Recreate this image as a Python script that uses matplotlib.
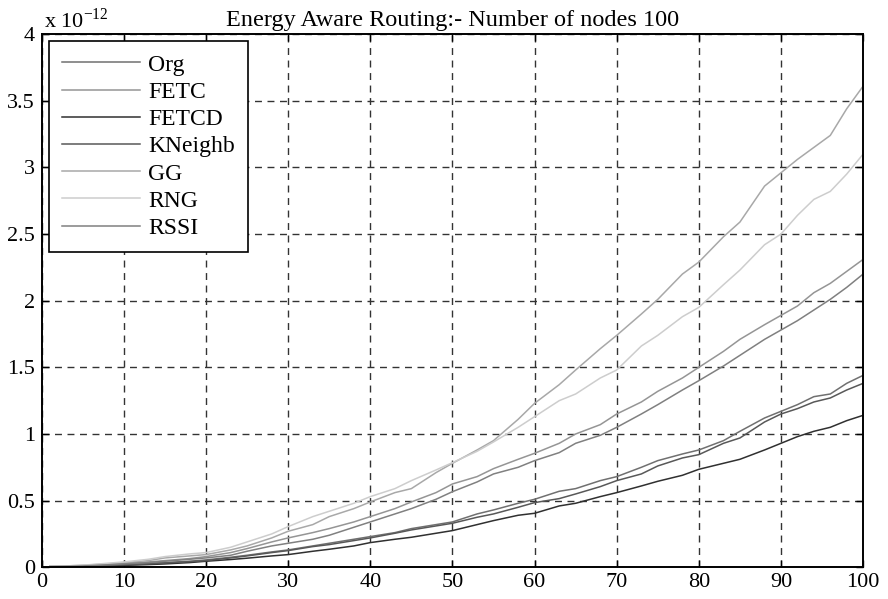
import matplotlib
matplotlib.use("Agg")
import matplotlib.pyplot as plt

x = [1, 3, 5, 8, 10, 13, 15, 18, 20, 23, 25, 28, 30, 33, 35, 38, 40, 43, 45, 48, 50,
     53, 55, 58, 60, 63, 65, 68, 70, 73, 75, 78, 80, 83, 85, 88, 90, 92, 94, 96, 98, 100]

org = [0.004, 0.005, 0.008, 0.014, 0.02, 0.03, 0.035, 0.045, 0.055, 0.075, 0.09, 0.115, 0.13, 0.16,
       0.18, 0.21, 0.23, 0.26, 0.29, 0.32, 0.34, 0.40, 0.43, 0.48, 0.51, 0.57, 0.59, 0.65, 0.68,
       0.75, 0.80, 0.85, 0.88, 0.95, 1.02, 1.12, 1.17, 1.22, 1.28, 1.30, 1.38, 1.44]
fetc = [0.005, 0.008, 0.012, 0.02, 0.03, 0.04, 0.05, 0.065, 0.08, 0.11, 0.14, 0.19, 0.22, 0.26,
        0.29, 0.34, 0.38, 0.44, 0.49, 0.56, 0.625, 0.68, 0.74, 0.81, 0.855, 0.93, 1.00, 1.07, 1.15,
        1.24, 1.32, 1.42, 1.50, 1.62, 1.71, 1.82, 1.89, 1.96, 2.06, 2.13, 2.22, 2.31]
fetcd = [0.003, 0.004, 0.006, 0.01, 0.014, 0.02, 0.025, 0.035, 0.045, 0.058, 0.068, 0.085, 0.095,
         0.12, 0.135, 0.16, 0.185, 0.21, 0.225, 0.255, 0.275, 0.32, 0.35, 0.39, 0.405, 0.46, 0.48,
         0.53, 0.56, 0.61, 0.645, 0.69, 0.735, 0.78, 0.81, 0.88, 0.93, 0.98, 1.02, 1.05, 1.10, 1.14]
kneighb = [0.004, 0.005, 0.008, 0.013, 0.018, 0.025, 0.032, 0.042, 0.05, 0.07, 0.085, 0.11, 0.125,
           0.155, 0.17, 0.20, 0.22, 0.255, 0.28, 0.31, 0.33, 0.375, 0.40, 0.45, 0.485, 0.515, 0.55,
           0.605, 0.65, 0.70, 0.76, 0.82, 0.845, 0.93, 0.97, 1.09, 1.15, 1.19, 1.24, 1.27, 1.33, 1.38]
gg = [0.01, 0.01, 0.015, 0.025, 0.035, 0.05, 0.07, 0.085, 0.095, 0.13, 0.16, 0.22, 0.27, 0.32,
      0.38, 0.44, 0.49, 0.56, 0.59, 0.71, 0.78, 0.88, 0.95, 1.11, 1.23, 1.37, 1.48, 1.64, 1.74,
      1.90, 2.01, 2.20, 2.29, 2.48, 2.59, 2.86, 2.96, 3.06, 3.15, 3.24, 3.44, 3.61]
rng = [0.01, 0.01, 0.015, 0.03, 0.04, 0.06, 0.08, 0.10, 0.11, 0.15, 0.19, 0.25, 0.305, 0.38,
       0.42, 0.48, 0.53, 0.59, 0.65, 0.73, 0.785, 0.87, 0.94, 1.05, 1.13, 1.25, 1.30, 1.42, 1.48,
       1.66, 1.74, 1.88, 1.95, 2.12, 2.23, 2.42, 2.50, 2.64, 2.76, 2.82, 2.95, 3.10]
rssi = [0.005, 0.007, 0.01, 0.018, 0.025, 0.035, 0.045, 0.06, 0.07, 0.09, 0.12, 0.16, 0.18, 0.21,
        0.24, 0.30, 0.34, 0.40, 0.44, 0.51, 0.567, 0.64, 0.70, 0.75, 0.80, 0.86, 0.93, 0.99, 1.05,
        1.15, 1.22, 1.33, 1.40, 1.51, 1.59, 1.71, 1.78, 1.85, 1.93, 2.01, 2.10, 2.20]

names = ["Org", "FETC", "FETCD", "KNeighb", "GG", "RNG", "RSSI"]
series = [org, fetc, fetcd, kneighb, gg, rng, rssi]
colors = ["#707070", "#959595", "#303030", "#585858", "#a8a8a8", "#cdcdcd", "#808080"]

xticks = [0, 10, 20, 30, 40, 50, 60, 70, 80, 90, 100]
yticks = [0, 0.5, 1, 1.5, 2, 2.5, 3, 3.5, 4]
ytick_labels = ["0", "0.5", "1", "1.5", "2", "2.5", "3", "3.5", "4"]

plt.rcParams['font.family'] = ['Liberation Serif', 'DejaVu Serif']
plt.rcParams['mathtext.fontset'] = 'custom'
plt.rcParams['mathtext.rm'] = 'Liberation Serif'

fig = plt.figure(figsize=(8.88, 5.99), dpi=100)
ax = fig.add_axes([0.047, 0.053, 0.925, 0.890])

for name, ys, c in zip(names, series, colors):
    ax.plot(x, ys, color=c, lw=1.1, label=name)

ax.set_xlim(0, 100)
ax.set_ylim(0, 4)
ax.set_xticks(xticks)
ax.set_yticks(yticks)
ax.set_yticklabels(ytick_labels)
ax.tick_params(direction='in', top=True, right=True, labelsize=16, length=5, width=1)
ax.tick_params(axis='x', pad=4)
ax.tick_params(axis='y', pad=5)
ax.grid(True, color='#333333', linestyle=(0, (5, 4)), lw=1.0)
for s in ax.spines.values():
    s.set_linewidth(1.4)
    s.set_color('black')

ax.set_title("Energy Aware Routing:- Number of nodes 100", fontsize=17.5, pad=6)
fig.text(0.049, 0.954, r"x 10$^{\mathrm{-12}}$", fontsize=16, ha='left', va='baseline')

leg = ax.legend(loc='upper left', fontsize=17, frameon=True, fancybox=False,
                edgecolor='black', handlelength=3.3, handletextpad=0.35,
                labelspacing=0.24, borderaxespad=0.3, borderpad=0.55)
leg.get_frame().set_linewidth(1.2)
leg.get_frame().set_alpha(1)

fig.savefig("out.png", dpi=100)
